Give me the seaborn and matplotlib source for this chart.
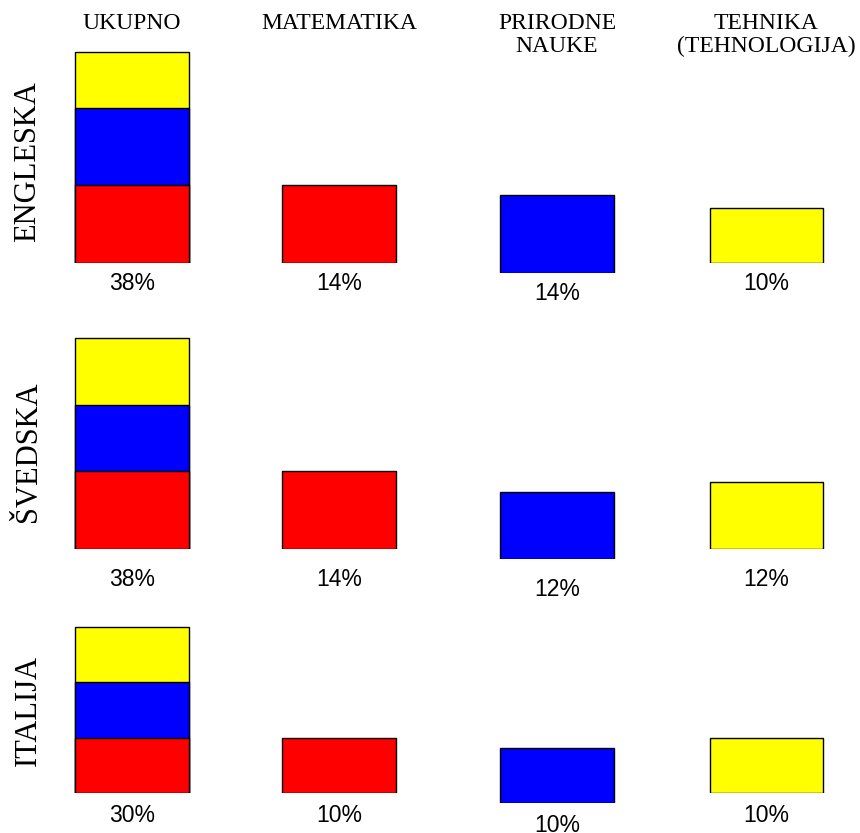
import matplotlib
matplotlib.use('Agg')
import matplotlib.pyplot as plt
import seaborn as sns

# data (percent)
countries = ['ENGLESKA', 'ŠVEDSKA', 'ITALIJA']
subjects = ['UKUPNO', 'MATEMATIKA', 'PRIRODNE\nNAUKE', 'TEHNIKA\n(TEHNOLOGIJA)']
matematika = [14, 14, 10]
prirodne = [14, 12, 10]
tehnika = [10, 12, 10]
ukupno = [38, 38, 30]
colors = ['#ff0000', '#0000ff', '#ffff00']

sns.set_style('white')
plt.rcParams['font.family'] = ['Liberation Serif', 'DejaVu Serif']
plt.rcParams['text.color'] = 'black'

W, H = 860, 833
fig = plt.figure(figsize=(W / 100, H / 100), dpi=100)

# layout in pixels
col_x = [132, 339, 557, 766.5]
col_drop = [0, 0, 10, 0]          # blue column sits a bit lower
row_base = [263, 549, 793]
label_gap = [20, 31, 22]
row_label_y = [162, 452, 710]
bar_px = 114
ymax = 40
px_per_pct = 5.55
ax_w = bar_px / 0.8
ax_h = ymax * px_per_pct


def cell_axes(r, c):
    base = row_base[r] + col_drop[c]
    rect = [(col_x[c] - ax_w / 2) / W, (H - base) / H, ax_w / W, ax_h / H]
    ax = fig.add_axes(rect)
    ax.set_xlim(-0.5, 0.5)
    ax.set_ylim(0, ymax)
    ax.axis('off')
    return ax


def bar(ax, value, color):
    sns.barplot(x=['v'], y=[value], color=color, saturation=1, width=0.8,
                edgecolor='black', linewidth=1, ax=ax)
    ax.set_xlim(-0.5, 0.5)
    ax.set_ylim(0, ymax)
    ax.axis('off')


def pct_label(ax, r, text):
    ax.annotate(text, xy=(0, 0), xytext=(0, -label_gap[r]), textcoords='offset pixels',
                ha='center', va='center', fontsize=16.5, family='Liberation Sans',
                color='black')


for r in range(len(countries)):
    # stacked total: draw cumulative heights from top down
    ax = cell_axes(r, 0)
    red, blue, yellow = matematika[r], prirodne[r], tehnika[r]
    bar(ax, red + blue + yellow, colors[2])
    bar(ax, red + blue, colors[1])
    bar(ax, red, colors[0])
    pct_label(ax, r, f'{ukupno[r]}%')

    for c, (vals, col) in enumerate([(matematika, colors[0]), (prirodne, colors[1]),
                                     (tehnika, colors[2])], start=1):
        ax = cell_axes(r, c)
        bar(ax, vals[r], col)
        pct_label(ax, r, f'{vals[r]}%')

    fig.text(28 / W, 1 - row_label_y[r] / H, countries[r], rotation=90,
             ha='center', va='center', fontsize=22, color='black')

for c, name in enumerate(subjects):
    fig.text(col_x[c] / W, 1 - 13 / H, name, ha='center', va='top',
             fontsize=17, linespacing=1.1, color='black')

fig.savefig('out.png', dpi=100)
